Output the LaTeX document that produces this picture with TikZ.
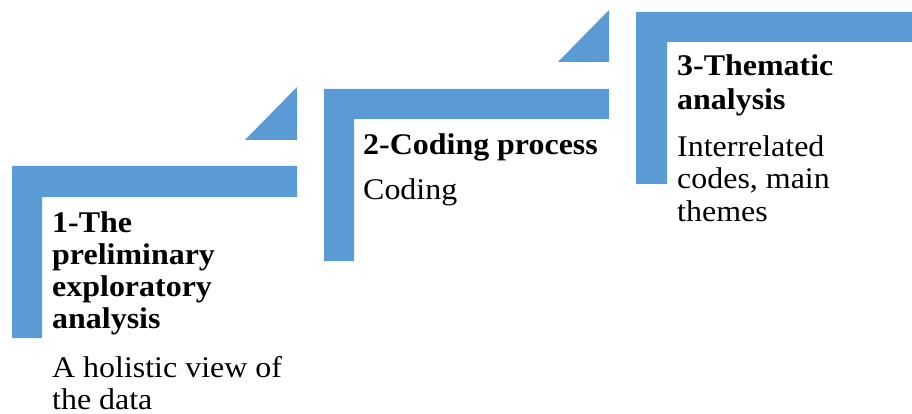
\documentclass[tikz,border=0pt]{standalone}
\usepackage{fontspec}
\setmainfont{Liberation Serif}[FakeStretch=1.065]
\definecolor{stepblue}{HTML}{5B9BD5}
\tikzset{
  stepfill/.style={fill=stepblue, draw=none},
  titletext/.style={anchor=base west, inner sep=0pt, align=left, font=\fontsize{30}{33}\selectfont\bfseries},
  bodytext/.style={anchor=base west, inner sep=0pt, align=left, font=\fontsize{30}{33}\selectfont},
}
\begin{document}
\begin{tikzpicture}[x=1pt,y=-1pt]
\useasboundingbox (0,0) rectangle (912,414);
% step 1
\fill[stepfill] (12,166) -- (297,166) -- (297,197) -- (42,197) -- (42,338) -- (12,338) -- cycle;
\fill[stepfill] (245,140) -- (297,140) -- (297,87) -- cycle;
% step 2
\fill[stepfill] (324,89) -- (609,89) -- (609,119) -- (354,119) -- (354,261) -- (324,261) -- cycle;
\fill[stepfill] (558,62) -- (609,62) -- (609,10) -- cycle;
% step 3
\fill[stepfill] (636,12) -- (912,12) -- (912,42) -- (667,42) -- (667,184) -- (636,184) -- cycle;
% texts
\node[titletext] (t1a) at (52,232) {1-The};
\node[titletext] (t1b) at (52,264) {preliminary};
\node[titletext] (t1c) at (52,296) {exploratory};
\node[titletext] (t1d) at (52,328) {analysis};
\node[bodytext] (b1a) at (52,377) {A holistic view of};
\node[bodytext] (b1b) at (52,409) {the data};
\node[titletext] (t2) at (363,155) {2-Coding process};
\node[bodytext] (b2) at (363,200) {Coding};
\node[titletext] (t3a) at (677,76) {3-Thematic};
\node[titletext] (t3b) at (677,110) {analysis};
\node[bodytext] (b3a) at (677,157) {Interrelated};
\node[bodytext] (b3b) at (677,189) {codes, main};
\node[bodytext] (b3c) at (677,221) {themes};
\end{tikzpicture}
\end{document}
